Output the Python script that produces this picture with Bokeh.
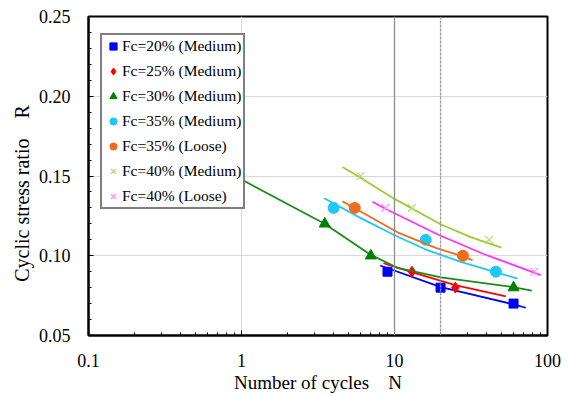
from bokeh.plotting import figure
from bokeh.models import (Range1d, FixedTicker, SingleIntervalTicker, CustomJSTickFormatter,
                          NumeralTickFormatter, Legend, LegendItem, Span)
from bokeh.embed import file_html
from bokeh.resources import INLINE

# ---- data ----
labels = ["Fc=20% (Medium)", "Fc=25% (Medium)", "Fc=30% (Medium)", "Fc=35% (Medium)",
          "Fc=35% (Loose)", "Fc=40% (Medium)", "Fc=40% (Loose)"]

# measured points (number of cycles N, cyclic stress ratio R)
n_20m = [9, 20, 60]
r_20m = [0.09, 0.08, 0.07]
n_25m = [13, 25]
r_25m = [0.09, 0.08]
n_30m = [3.5, 7, 60]
r_30m = [0.12, 0.10, 0.08]
n_35m = [4, 16, 46]
r_35m = [0.13, 0.11, 0.09]
n_35l = [5.5, 28]
r_35l = [0.13, 0.10]
n_40m = [6, 13, 41.5]
r_40m = [0.15, 0.13, 0.11]
n_40l = [8.7, 82]
r_40l = [0.13, 0.09]

# trend curves
tn_20m = [8.05, 20.1, 59.1, 72.1]
tr_20m = [0.0939, 0.0803, 0.0697, 0.0674]
tn_25m = [8.47, 12.97, 24.9, 53.4]
tr_25m = [0.0953, 0.0898, 0.0816, 0.0746]
tn_30m = [1.0, 3.47, 6.93, 10.46, 20.1, 59.6, 78.9]
tr_30m = [0.1478, 0.1202, 0.1008, 0.0924, 0.0865, 0.0804, 0.0782]
tn_35m = [3.47, 6.02, 9.94, 16.02, 27.1, 45.5, 63.7]
tr_35m = [0.1360, 0.1236, 0.1130, 0.1039, 0.0961, 0.0897, 0.0857]
tn_35l = [4.57, 5.50, 10.46, 18.62, 28.08, 32.35]
tr_35l = [0.1341, 0.1298, 0.1147, 0.1049, 0.0995, 0.0973]
tn_40m = [4.57, 5.96, 9.94, 19.86, 31.5, 50.0]
tr_40m = [0.1556, 0.1490, 0.1358, 0.1199, 0.1117, 0.1051]
tn_40l = [7.18, 8.77, 19.19, 38.9, 90.4]
tr_40l = [0.1339, 0.1293, 0.1133, 0.1008, 0.0879]

x_ticks = [0.1, 1, 10, 100]
x_minor = [m * d for d in (0.1, 1, 10) for m in range(2, 10)]
x_grid = [1]
ref_lines = [10, 20]

FONT = "Liberation Serif"
NB = "\u00a0"

p = figure(width=569, height=396, x_axis_type="log",
           x_range=Range1d(0.1, 100), y_range=Range1d(0.05, 0.25),
           output_backend="svg", toolbar_location=None,
           min_border_left=88, min_border_right=22, min_border_top=16, min_border_bottom=61)

p.background_fill_color = "white"
p.border_fill_color = "white"
p.outline_line_color = "black"
p.outline_line_width = 2

# axes
p.xaxis.ticker = FixedTicker(ticks=x_ticks, minor_ticks=x_minor)
p.xaxis.formatter = CustomJSTickFormatter(code="return tick.toString();")
p.yaxis.ticker = SingleIntervalTicker(interval=0.05, num_minor_ticks=5)
p.yaxis.formatter = NumeralTickFormatter(format="0.00")
for ax in (p.xaxis[0], p.yaxis[0]):
    ax.axis_line_color = "black"
    ax.axis_line_width = 2
    ax.major_tick_in = 5
    ax.major_tick_out = 0
    ax.minor_tick_in = 3
    ax.minor_tick_out = 0
    ax.major_tick_line_color = "black"
    ax.minor_tick_line_color = "black"
    ax.major_label_text_font = FONT
    ax.major_label_text_font_size = "18px"
    ax.major_label_text_color = "black"
    ax.axis_label_text_font = FONT
    ax.axis_label_text_font_size = "19px"
    ax.axis_label_text_font_style = "normal"
    ax.axis_label_text_color = "black"

p.xaxis.axis_label = "Number of cycles" + NB * 4 + "N"
p.yaxis.axis_label = "Cyclic stress ratio" + NB * 4 + "R" + NB * 7
p.yaxis.axis_label_text_font_size = "20px"
p.xaxis.major_label_standoff = 18
p.xaxis.axis_label_standoff = 2
p.yaxis.major_label_standoff = 18
p.yaxis.axis_label_standoff = 3

# grids
p.ygrid.grid_line_color = "#d9d9d9"
p.ygrid.grid_line_width = 1
p.xgrid.ticker = FixedTicker(ticks=x_grid)
p.xgrid.grid_line_color = "#d9d9d9"
p.xgrid.grid_line_width = 1
p.add_layout(Span(location=ref_lines[0], dimension="height", line_color="#8c8c8c", line_width=1.3))
p.add_layout(Span(location=ref_lines[1], dimension="height", line_color="#9a9a9a", line_width=1.3,
                  line_dash="3 1"))

styles = [
    (n_20m, r_20m, tn_20m, tr_20m, "#0000ff", "square", 9, "#0000ff"),
    (n_25m, r_25m, tn_25m, tr_25m, "#ff0000", "diamond", 11, "#ff0000"),
    (n_30m, r_30m, tn_30m, tr_30m, "#1a8a1a", "triangle", 11, "#008000"),
    (n_35m, r_35m, tn_35m, tr_35m, "#1ec8f5", "circle", 11, "#1ec8f5"),
    (n_35l, r_35l, tn_35l, tr_35l, "#f26b1d", "circle", 11, "#f26b1d"),
    (n_40m, r_40m, tn_40m, tr_40m, "#9acd32", "x", 11, "#b5dc78"),
    (n_40l, r_40l, tn_40l, tr_40l, "#ff33ff", "x", 11, "#ff8cff"),
]

items = []
for lab, (n, r, tn, tr, lc, mk, sz, mc) in zip(labels, styles):
    p.line(tn, tr, line_color=lc, line_width=1.8)
    if mk == "x":
        sr = p.scatter(n, r, marker=mk, size=sz, line_color=mc, line_width=1.2)
    else:
        sr = p.scatter(n, r, marker=mk, size=sz, fill_color=mc, line_color=mc)
    items.append(LegendItem(label=lab, renderers=[sr]))

legend = Legend(items=items, location=(12, 126),
                label_text_font=FONT, label_text_font_size="15.5px", label_text_color="black",
                glyph_width=18, glyph_height=18, label_height=18, label_standoff=-2,
                spacing=7, padding=2, margin=0,
                border_line_color="black", border_line_width=2,
                background_fill_color="white", background_fill_alpha=1.0)
p.add_layout(legend)

open("out.html", "w").write(file_html(p, INLINE))
